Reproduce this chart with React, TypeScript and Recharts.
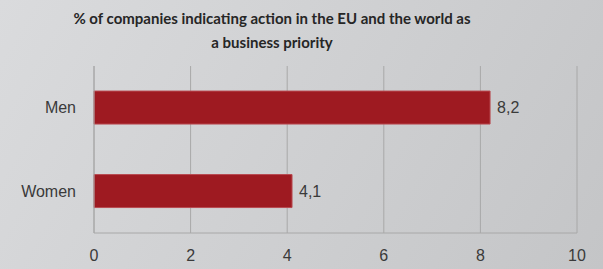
import React from 'react';
import { BarChart, Bar, XAxis, YAxis, CartesianGrid, LabelList } from 'recharts';

const categories = ['Men', 'Women'];
const values = [8.2, 4.1];
const xTicks = [0, 2, 4, 6, 8, 10];
const titleLines = ['% of companies indicating action in the EU and the world as', 'a business priority'];

const data = categories.map((c, i) => ({ name: c, value: values[i] }));

const FONT = '"Liberation Sans", Arial, sans-serif';
const TITLE_FONT = 'Lato, "Liberation Sans", sans-serif';

export default function App() {
  return (
    <div
      style={{
        position: 'absolute',
        left: 0,
        top: 0,
        width: 603,
        height: 269,
        overflow: 'hidden',
        background: 'linear-gradient(120deg, #dadbdd 0%, #cfd0d2 50%, #c4c5c7 100%)',
        fontFamily: FONT,
      }}
    >
      <div
        style={{
          position: 'absolute',
          left: 0,
          top: 6,
          width: 544,
          textAlign: 'center',
          fontWeight: 'bold',
          fontSize: 15,
          fontFamily: TITLE_FONT,
          lineHeight: '24px',
          color: '#262626',
        }}
      >
        {titleLines.map((t) => (
          <div key={t}>{t}</div>
        ))}
      </div>
      <BarChart
        width={603}
        height={269}
        data={data}
        layout="vertical"
        margin={{ top: 66, right: 26, bottom: 0, left: 0 }}
        barCategoryGap="30%"
        style={{ position: 'absolute', left: 0, top: 0 }}
      >
        <CartesianGrid horizontal={false} vertical={true} stroke="#a8a8a8" strokeWidth={1} />
        <XAxis
          type="number"
          domain={[0, 10]}
          ticks={xTicks}
          interval={0}
          height={36}
          axisLine={{ stroke: '#a8a8a8' }}
          tickLine={false}
          tickSize={0}
          tickMargin={17}
          tick={{ fill: '#3a3a3a', fontSize: 16, fontFamily: FONT }}
        />
        <YAxis
          type="category"
          dataKey="name"
          width={94}
          axisLine={{ stroke: '#a8a8a8' }}
          tickLine={false}
          tickSize={0}
          tickMargin={18}
          tick={{ fill: '#3a3a3a', fontSize: 16, fontFamily: FONT }}
        />
        <Bar dataKey="value" fill="#9e1a21" stroke="#b84a50" strokeWidth={1} isAnimationActive={false}>
          <LabelList
            dataKey="value"
            position="right"
            offset={7}
            formatter={(v: number) => String(v).replace('.', ',')}
            style={{ fill: '#3a3a3a', fontSize: 16, fontFamily: FONT }}
          />
        </Bar>
      </BarChart>
    </div>
  );
}
